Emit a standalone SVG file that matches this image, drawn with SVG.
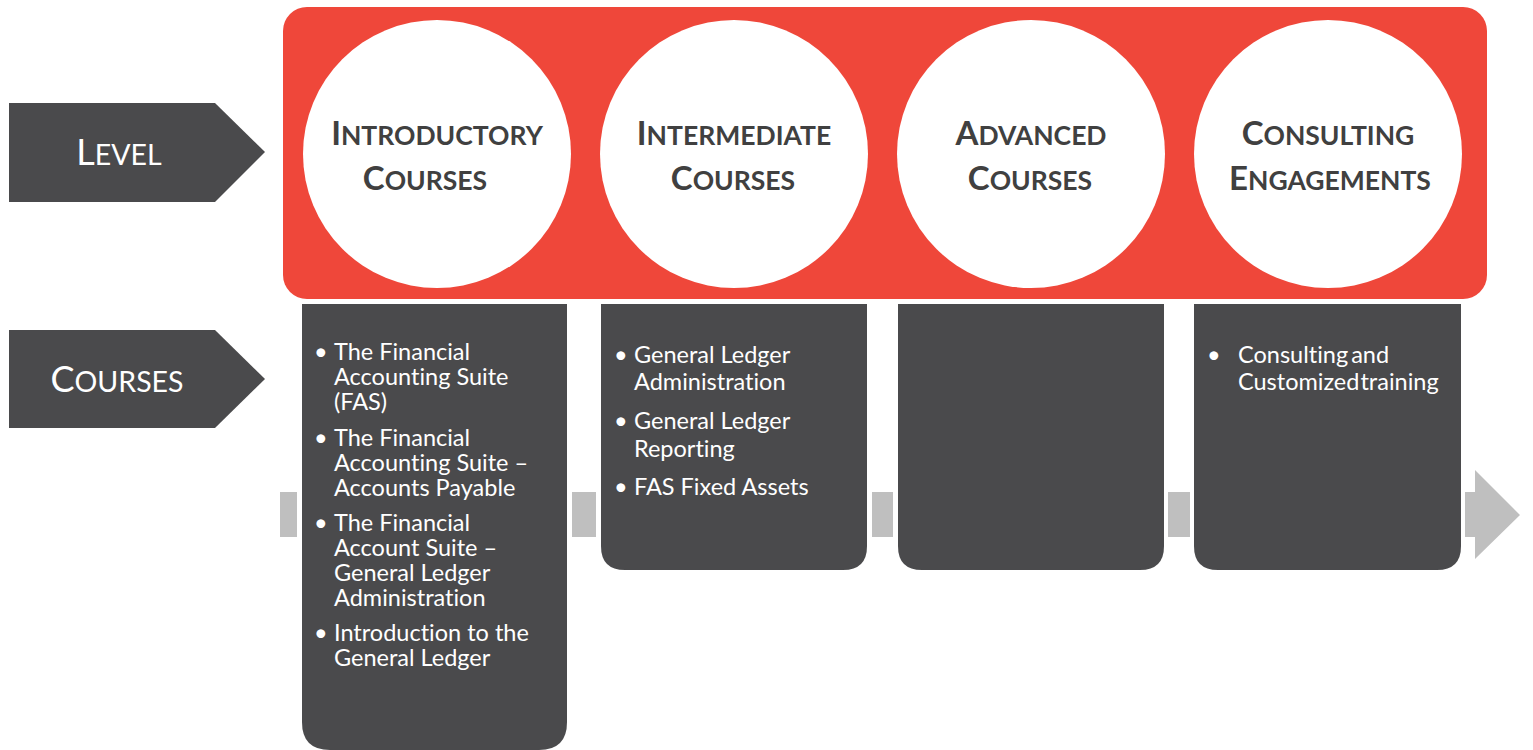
<svg xmlns="http://www.w3.org/2000/svg" width="1533" height="750" viewBox="0 0 1533 750">
  <style>
    .dark { fill: #4a4a4c; }
    .band { fill: #bfbfbf; }
    .level { fill: #ef473a; }
    .disc { fill: #ffffff; }
    .side { font-family: Lato, "Open Sans", sans-serif; fill: #ffffff; text-anchor: middle; }
    .title { font-family: Lato, "Open Sans", sans-serif; fill: #404040; text-anchor: middle; font-weight: 700; }
    .big { font-size: 33px; }
    .small { font-size: 26.5px; }
    .item { font-family: Lato, "Open Sans", sans-serif; fill: #ffffff; font-size: 23.5px; font-variant-ligatures: none; }
  </style>

  <!-- progress band: short segments between the course columns, ending in an arrowhead -->
  <g id="connectors">
    <rect class="band" x="280" y="492" width="17" height="45"/>
    <rect class="band" x="572" y="492" width="24" height="45"/>
    <rect class="band" x="872" y="492" width="21" height="45"/>
    <rect class="band" x="1168" y="492" width="22" height="45"/>
    <path class="band" d="M1465 492 H1475 V470 L1520 515 L1475 559 V537 H1465 Z"/>
  </g>

  <!-- row labels -->
  <g id="label-level">
    <path class="dark" d="M9 103 H215 L265 152 L215 202 H9 Z"/>
    <text class="side" x="119" y="165"><tspan font-size="36">L</tspan><tspan font-size="28.5">EVEL</tspan></text>
  </g>
  <g id="label-courses">
    <path class="dark" d="M9 330 H215 L265 379 L215 428 H9 Z"/>
    <text class="side" x="117" y="392"><tspan font-size="36">C</tspan><tspan font-size="28.5">OURSES</tspan></text>
  </g>

  <!-- level banner -->
  <g id="level-banner">
    <rect class="level" x="283" y="7" width="1204" height="292" rx="24" ry="24"/>
  </g>

  <g id="level-introductory">
    <circle class="disc" cx="437" cy="154" r="134"/>
    <text class="title" x="437" y="145"><tspan class="big">I</tspan><tspan class="small">NTRODUCTORY</tspan></text>
    <text class="title" x="425" y="190"><tspan class="big">C</tspan><tspan class="small">OURSES</tspan></text>
  </g>
  <g id="level-intermediate">
    <circle class="disc" cx="734" cy="154" r="134"/>
    <text class="title" x="734" y="145"><tspan class="big">I</tspan><tspan class="small">NTERMEDIATE</tspan></text>
    <text class="title" x="733" y="190"><tspan class="big">C</tspan><tspan class="small">OURSES</tspan></text>
  </g>
  <g id="level-advanced">
    <circle class="disc" cx="1031" cy="154" r="134"/>
    <text class="title" x="1031" y="145"><tspan class="big">A</tspan><tspan class="small">DVANCED</tspan></text>
    <text class="title" x="1030" y="190"><tspan class="big">C</tspan><tspan class="small">OURSES</tspan></text>
  </g>
  <g id="level-consulting">
    <circle class="disc" cx="1328" cy="154" r="134"/>
    <text class="title" x="1328" y="145"><tspan class="big">C</tspan><tspan class="small">ONSULTING</tspan></text>
    <text class="title" x="1330" y="190"><tspan class="big">E</tspan><tspan class="small">NGAGEMENTS</tspan></text>
  </g>

  <!-- course columns -->
  <g id="courses-introductory">
    <path class="dark" d="M302 304 H567 V722 Q567 750 539 750 H330 Q302 750 302 722 Z"/>
    <g class="item">
      <text x="314" y="360">•</text>
      <text x="334" y="360">The Financial</text>
      <text x="334" y="385">Accounting Suite</text>
      <text x="334" y="410">(FAS)</text>
      <text x="314" y="446">•</text>
      <text x="334" y="446">The Financial</text>
      <text x="334" y="471">Accounting Suite –</text>
      <text x="334" y="496">Accounts Payable</text>
      <text x="314" y="531">•</text>
      <text x="334" y="531">The Financial</text>
      <text x="334" y="556">Account Suite –</text>
      <text x="334" y="581">General Ledger</text>
      <text x="334" y="606">Administration</text>
      <text x="314" y="641">•</text>
      <text x="334" y="641">Introduction to the</text>
      <text x="334" y="666">General Ledger</text>
    </g>
  </g>
  <g id="courses-intermediate">
    <path class="dark" d="M601 304 H867 V546 Q867 570 843 570 H625 Q601 570 601 546 Z"/>
    <g class="item">
      <text x="614" y="363">•</text>
      <text x="634" y="363">General Ledger</text>
      <text x="634" y="390">Administration</text>
      <text x="614" y="429">•</text>
      <text x="634" y="429">General Ledger</text>
      <text x="634" y="457">Reporting</text>
      <text x="614" y="495">•</text>
      <text x="634" y="495">FAS Fixed Assets</text>
    </g>
  </g>
  <g id="courses-advanced">
    <path class="dark" d="M898 304 H1164 V546 Q1164 570 1140 570 H922 Q898 570 898 546 Z"/>
  </g>
  <g id="courses-consulting">
    <path class="dark" d="M1194 304 H1461 V546 Q1461 570 1437 570 H1218 Q1194 570 1194 546 Z"/>
    <g class="item">
      <text x="1207" y="363">•</text>
      <text x="1238" y="363" word-spacing="-3">Consulting and</text>
      <text x="1238" y="390" word-spacing="-5">Customized training</text>
    </g>
  </g>
</svg>
